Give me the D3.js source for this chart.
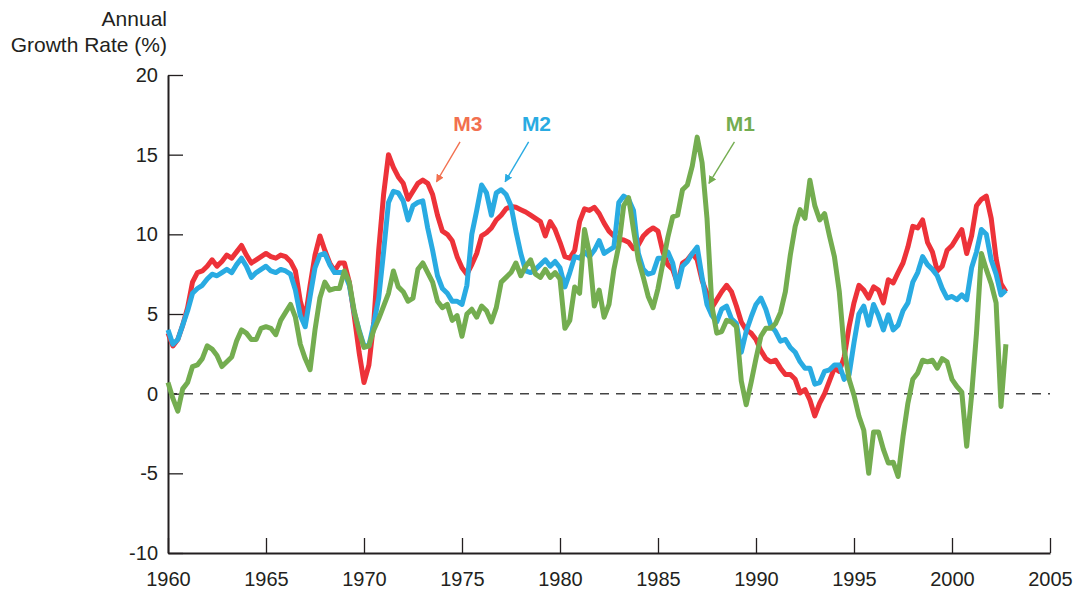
<!DOCTYPE html>
<html>
<head>
<meta charset="utf-8">
<script src="https://cdn.jsdelivr.net/npm/d3@7"></script>
<style>
  body { margin: 0; background: #fff; }
  text { font-family: "Liberation Sans", Arial, sans-serif; }
</style>
</head>
<body>
<svg width="1076" height="591"></svg>
<script>
const width = 1076;
const height = 591;

// quarterly observations, first one at 1960 Q1
const startYear = 1960;
const m3 = [
  3.8, 3.0, 3.4, 4.3, 5.4, 7.0, 7.6, 7.7, 8.0, 8.4, 8.0, 8.3,
  8.7, 8.5, 8.9, 9.3, 8.7, 8.2, 8.4, 8.6, 8.8, 8.6, 8.5, 8.7,
  8.6, 8.3, 7.7, 5.8, 4.7, 6.8, 8.7, 9.9, 9.0, 8.2, 7.7, 8.2,
  8.2, 7.0, 4.9, 2.6, 0.7, 1.8, 4.5, 9.0, 12.5, 15.0, 14.2, 13.6,
  13.2, 12.2, 12.7, 13.2, 13.4, 13.2, 12.5, 11.2, 10.2, 10.0, 9.6, 8.6,
  7.9, 7.5, 8.1, 8.8, 9.9, 10.1, 10.4, 10.9, 11.2, 11.6, 11.75, 11.7,
  11.55, 11.4, 11.2, 11.0, 10.8, 9.9, 10.8, 10.3, 9.5, 8.6, 8.5, 9.0,
  10.8, 11.6, 11.5, 11.7, 11.3, 10.7, 10.2, 9.9, 9.7, 9.65, 9.5, 9.1,
  9.35, 9.9, 10.2, 10.4, 10.2, 8.9, 8.1, 7.8, 6.9, 8.2, 8.4, 8.8,
  8.4, 7.1, 6.3, 5.4, 5.9, 6.4, 6.8, 6.4, 5.5, 4.5, 4.0, 3.8,
  3.4, 2.7, 2.2, 2.0, 2.1, 1.6, 1.2, 1.2, 0.9, 0.05, 0.25, -0.4,
  -1.4, -0.6, 0.0, 0.8, 1.6, 1.4, 2.3, 4.2, 5.7, 6.8, 6.5, 6.0,
  6.7, 6.5, 5.7, 7.15, 6.95, 7.6, 8.2, 9.2, 10.5, 10.4, 10.9, 9.5,
  8.9, 7.7, 8.0, 9.0, 9.3, 9.8, 10.3, 8.8, 9.9, 11.8, 12.2, 12.4,
  11.0, 8.5, 6.9, 6.4
];
const m2 = [
  4.0, 3.1, 3.4, 4.3, 5.2, 6.3, 6.6, 6.8, 7.2, 7.5, 7.4, 7.6,
  7.8, 7.6, 8.1, 8.5, 8.0, 7.3, 7.6, 7.8, 8.0, 7.7, 7.6, 7.8,
  7.7, 7.5, 6.5, 4.9, 4.2, 6.1, 7.9, 8.7, 8.8, 8.1, 7.6, 7.6,
  7.6, 6.8, 5.1, 4.0, 3.0, 3.0, 4.4, 6.0, 8.9, 12.0, 12.7, 12.6,
  12.1, 10.9, 11.8, 12.0, 12.1, 10.4, 9.0, 7.4, 6.6, 6.3, 5.8, 5.8,
  5.6, 6.8, 10.0, 11.5, 13.1, 12.6, 11.2, 12.6, 12.8, 12.5, 11.8, 10.2,
  8.8, 7.7, 7.6, 7.8, 8.1, 8.4, 8.0, 8.3, 7.9, 6.7, 7.6, 8.6,
  8.5, 8.9, 8.6, 9.0, 9.6, 8.8, 9.0, 9.2, 12.0, 12.4, 12.2, 11.5,
  8.8, 7.8, 7.5, 7.6, 8.5, 8.5, 8.9, 8.2, 6.7, 8.0, 8.3, 8.8,
  9.2, 7.3, 5.6, 4.9, 4.5, 5.3, 5.5, 4.7, 4.4, 2.6, 3.9, 4.8,
  5.6, 6.0, 5.3, 4.3, 3.9, 3.3, 3.4, 2.9, 2.6, 2.0, 1.6, 1.6,
  0.6, 0.7, 1.4, 1.5, 1.8, 1.8, 0.9, 1.2, 3.2, 5.0, 5.5, 4.3,
  5.6, 4.9, 4.0, 4.95, 4.0, 4.3, 5.2, 5.7, 7.0, 7.6, 8.6, 8.1,
  7.8, 7.4, 6.6, 6.0, 6.1, 5.9, 6.2, 5.9, 7.9, 8.9, 10.3, 10.0,
  8.4, 7.5, 6.2, 6.5
];
const m1 = [
  0.7, -0.3, -1.1, 0.3, 0.7, 1.7, 1.8, 2.2, 3.0, 2.8, 2.4, 1.7,
  2.0, 2.3, 3.3, 4.0, 3.8, 3.4, 3.4, 4.1, 4.2, 4.1, 3.7, 4.6,
  5.1, 5.6, 4.8, 3.1, 2.2, 1.5, 4.0, 6.0, 7.0, 6.5, 6.6, 6.6,
  7.7, 7.0, 5.2, 3.9, 2.9, 3.0, 4.0, 4.7, 5.5, 6.3, 7.7, 6.7,
  6.4, 5.8, 6.0, 7.8, 8.2, 7.6, 7.0, 5.8, 5.4, 5.6, 4.6, 4.9,
  3.6, 5.0, 5.3, 4.8, 5.5, 5.2, 4.5, 5.4, 7.0, 7.3, 7.6, 8.2,
  7.4, 8.0, 8.4, 7.5, 7.3, 7.8, 7.3, 7.6, 7.2, 4.1, 4.6, 6.7,
  6.3, 10.3, 8.8, 5.5, 6.5, 4.8, 5.6, 7.8, 9.3, 11.8, 12.3, 10.3,
  8.4, 7.3, 6.1, 5.4, 6.6, 8.2, 9.8, 11.1, 11.2, 12.8, 13.1, 14.3,
  16.1, 14.5, 11.0, 5.5, 3.8, 3.9, 4.6, 4.5, 4.2, 0.8, -0.7, 0.7,
  2.2, 3.6, 4.1, 4.1, 4.4, 5.1, 6.4, 8.7, 10.5, 11.55, 11.0, 13.4,
  11.8, 10.9, 11.3, 9.9, 8.6, 6.4, 2.8, 0.9, -0.1, -1.4, -2.3, -5.0,
  -2.4, -2.4, -3.5, -4.35, -4.3, -5.2, -2.7, -0.6, 0.9, 1.3, 2.1, 2.0,
  2.1, 1.6, 2.2, 2.0, 0.9, 0.45, 0.1, -3.3, -0.1, 3.8, 8.8, 7.8,
  6.9, 5.7, -0.8, 3.1
];

const yearTicks = [1960, 1965, 1970, 1975, 1980, 1985, 1990, 1995, 2000, 2005];
const rateTicks = [-10, -5, 0, 5, 10, 15, 20];

const seriesNames = ["M3", "M2", "M1"];
const seriesColors = ["#ed3239", "#29abe2", "#74ad50"];
const labelColors = ["#f2704f", "#29abe2", "#74ad50"];
// [label x, label y, arrow start x, arrow start y, arrow tip x, arrow tip y] in data units
const callouts = [
  [1975.3, 16.5, 1974.9, 15.8, 1973.7, 13.3],
  [1978.8, 16.5, 1978.4, 15.8, 1977.2, 13.3],
  [1989.2, 16.5, 1988.9, 15.8, 1987.6, 13.2]
];

const x = d3.scaleLinear().domain([1960, 2005]).range([168, 1050]);
const y = d3.scaleLinear().domain([-10, 20]).range([553, 75]);

const svg = d3.select("svg");

const defs = svg.append("defs");
labelColors.forEach((c, i) => {
  defs.append("marker")
    .attr("id", "arrow" + i)
    .attr("viewBox", "0 0 10 10")
    .attr("refX", 9)
    .attr("refY", 5)
    .attr("markerWidth", 8)
    .attr("markerHeight", 8)
    .attr("markerUnits", "userSpaceOnUse")
    .attr("orient", "auto")
    .append("path")
    .attr("d", "M0,0L10,5L0,10Z")
    .attr("fill", c);
});

// zero line
svg.append("line")
  .attr("x1", x(1960))
  .attr("x2", x(2005))
  .attr("y1", y(0))
  .attr("y2", y(0))
  .attr("stroke", "#444")
  .attr("stroke-width", 1.5)
  .attr("stroke-dasharray", "9,7");

// axes
const yAxis = svg.append("g")
  .attr("transform", `translate(${x(1960)},0)`)
  .call(d3.axisLeft(y)
    .tickValues(rateTicks)
    .tickFormat(d => String(d))
    .tickSize(-15)
    .tickSizeOuter(0)
    .tickPadding(10)
  );

const xAxis = svg.append("g")
  .attr("transform", `translate(0,${y(-10)})`)
  .call(d3.axisBottom(x)
    .tickValues(yearTicks)
    .tickFormat(d => String(d))
    .tickSize(-15)
    .tickSizeOuter(0)
    .tickPadding(19)
  );

[yAxis, xAxis].forEach(g => {
  g.select(".domain").attr("stroke", "#231f20").attr("stroke-width", 2);
  g.selectAll(".tick line").attr("stroke", "#231f20").attr("stroke-width", 1.3);
  g.selectAll(".tick text")
    .attr("fill", "#231f20")
    .style("font-size", "20px")
    .style("font-family", "'Liberation Sans', Arial, sans-serif");
});

// axis title
svg.append("text")
  .attr("x", 167)
  .attr("y", 26)
  .attr("text-anchor", "end")
  .attr("fill", "#231f20")
  .style("font-size", "21px")
  .text("Annual");
svg.append("text")
  .attr("x", 167)
  .attr("y", 52)
  .attr("text-anchor", "end")
  .attr("fill", "#231f20")
  .style("font-size", "21px")
  .text("Growth Rate (%)");

// lines
const line = d3.line()
  .x((d, i) => x(startYear + i / 4))
  .y(d => y(d));

[m3, m2, m1].forEach((s, i) => {
  svg.append("path")
    .datum(s)
    .attr("fill", "none")
    .attr("stroke", seriesColors[i])
    .attr("stroke-width", 5)
    .attr("stroke-linejoin", "round")
    .attr("d", line);
});

// callouts
callouts.forEach((c, i) => {
  svg.append("text")
    .attr("x", x(c[0]))
    .attr("y", y(c[1]))
    .attr("text-anchor", "middle")
    .attr("fill", labelColors[i])
    .style("font-size", "21px")
    .style("font-weight", "bold")
    .text(seriesNames[i]);
  svg.append("line")
    .attr("x1", x(c[2]))
    .attr("y1", y(c[3]))
    .attr("x2", x(c[4]))
    .attr("y2", y(c[5]))
    .attr("stroke", labelColors[i])
    .attr("stroke-width", 1.4)
    .attr("marker-end", `url(#arrow${i})`);
});
</script>
</body>
</html>
